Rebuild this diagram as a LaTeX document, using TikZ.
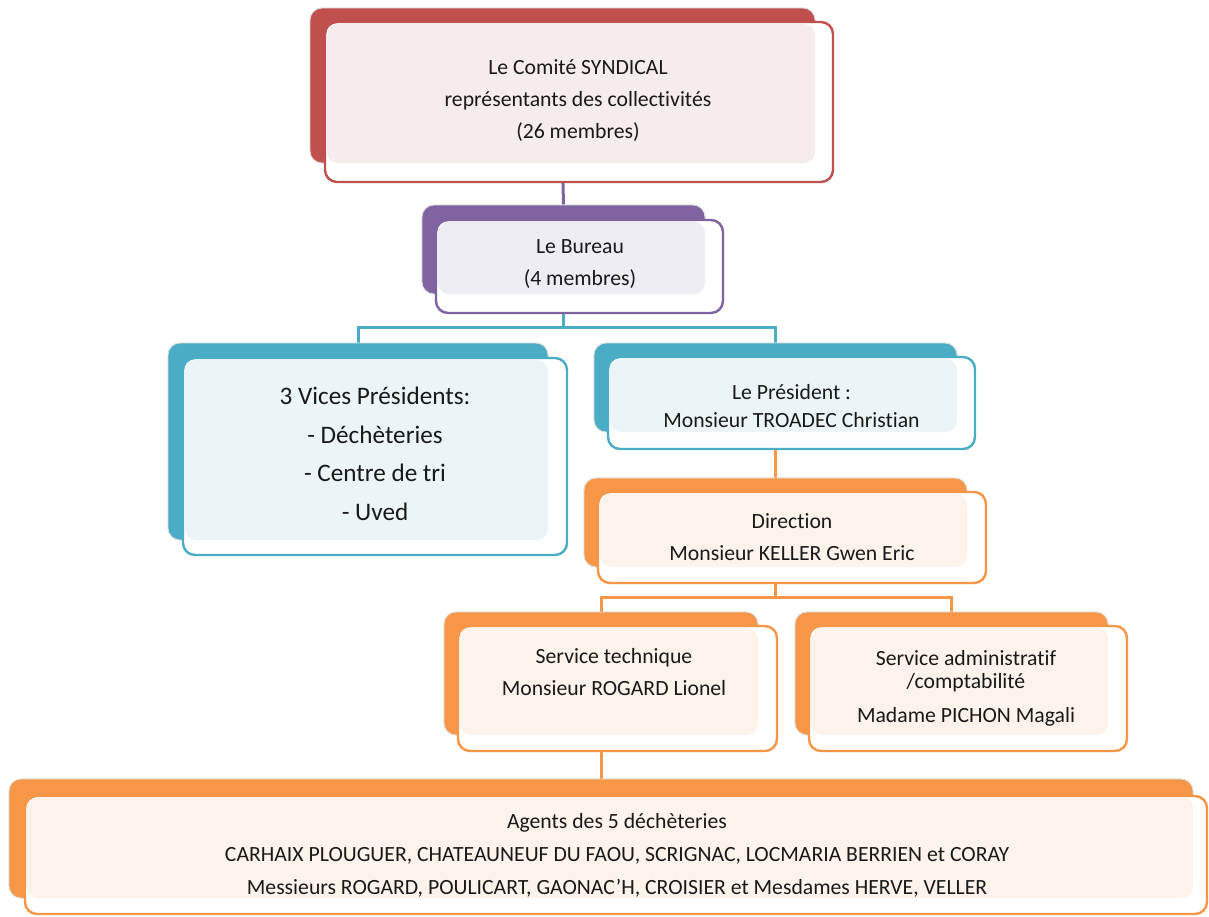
\documentclass[tikz,border=0pt]{standalone}
\usepackage{fontspec}
\setmainfont{Carlito}[Ligatures=NoCommon]
\usetikzlibrary{calc}
\definecolor{cred}{HTML}{C0504D}
\definecolor{tred}{HTML}{F7ECEC}
\definecolor{cpur}{HTML}{8064A2}
\definecolor{tpur}{HTML}{EFEDF4}
\definecolor{cteal}{HTML}{4BACC6}
\definecolor{tteal}{HTML}{EBF5F8}
\definecolor{cora}{HTML}{F79646}
\definecolor{tora}{HTML}{FDF3EB}
\tikzset{
  backbox/.style={rectangle, rounded corners=12pt, draw=black!12, line width=0.8pt, fill=#1, inner sep=0pt},
  frontbox/.style={rectangle, rounded corners=12pt, draw=#1, line width=2.4pt, fill=white, inner sep=0pt},
  tintfill/.style={fill=#1, rounded corners=11pt},
  conn/.style={line width=3pt, draw=#1},
  txt/.style={align=center, font=\fontsize{21.7}{32}\selectfont, text=black!90, inner sep=0pt},
}
\begin{document}
\begin{tikzpicture}[x=1pt,y=-1pt]
\useasboundingbox (0,0) rectangle (1209,916);
\fill[white] (0,0) rectangle (1209,916);
% back boxes (named) used by connectors
\node[backbox=cred, minimum width=505, minimum height=155] (comB) at (562.5,85.5) {};
\node[backbox=cpur, minimum width=283, minimum height=89] (burB) at (563.5,249.5) {};
\node[backbox=cteal, minimum width=380, minimum height=197] (vpB) at (358,441.5) {};
\node[backbox=cteal, minimum width=363, minimum height=89] (preB) at (775.5,387.5) {};
\node[backbox=cora, minimum width=383, minimum height=89] (dirB) at (775.5,522.5) {};
\node[backbox=cora, minimum width=314, minimum height=123] (tecB) at (601,673.5) {};
\node[backbox=cora, minimum width=313, minimum height=123] (admB) at (951.5,673.5) {};
\node[backbox=cora, minimum width=1184, minimum height=119] (ageB) at (601,838.5) {};
% connectors
\draw[conn=cpur] (comB.south) -- (burB.north);
\coordinate (j1) at ($(burB.south)+(0,33)$);
\draw[conn=cteal] (burB.south) -- (j1) -| (vpB.north);
\draw[conn=cteal] (j1) -| (preB.north);
\draw[conn=cora] (preB.south) -- (dirB.north);
\coordinate (j2) at ($(dirB.south)+(0,30)$);
\draw[conn=cora] (dirB.south) -- (j2) -| (tecB.north);
\draw[conn=cora] (j2) -| (admB.north);
\draw[conn=cora] (tecB.south) -- (ageB.north);
% redraw back boxes over connectors
\node[backbox=cred, minimum width=505, minimum height=155] at (comB) {};
\node[backbox=cpur, minimum width=283, minimum height=89] at (burB) {};
\node[backbox=cteal, minimum width=380, minimum height=197] at (vpB) {};
\node[backbox=cteal, minimum width=363, minimum height=89] at (preB) {};
\node[backbox=cora, minimum width=383, minimum height=89] at (dirB) {};
\node[backbox=cora, minimum width=314, minimum height=123] at (tecB) {};
\node[backbox=cora, minimum width=313, minimum height=123] at (admB) {};
\node[backbox=cora, minimum width=1184, minimum height=119] at (ageB) {};
% front boxes
\node[frontbox=cred, minimum width=508, minimum height=160] (comF) at (579,102) {};
\node[frontbox=cpur, minimum width=287, minimum height=93] (burF) at (579.5,266.5) {};
\node[frontbox=cteal, minimum width=384, minimum height=197] (vpF) at (375,456.5) {};
\node[frontbox=cteal, minimum width=367, minimum height=92] (preF) at (791.5,403) {};
\node[frontbox=cora, minimum width=388, minimum height=91] (dirF) at (792,537.5) {};
\node[frontbox=cora, minimum width=319, minimum height=125] (tecF) at (617.5,688.5) {};
\node[frontbox=cora, minimum width=318, minimum height=125] (admF) at (968,688.5) {};
\node[frontbox=cora, minimum width=1182, minimum height=118] (ageF) at (616,855) {};
% tints
\fill[tintfill=tred] (327,24) rectangle (815,163);
\fill[tintfill=tpur] (438,222) rectangle (705,294);
\fill[tintfill=tteal] (185,360) rectangle (548,540);
\fill[tintfill=tteal] (610,359) rectangle (957,432);
\fill[tintfill=tora] (600,494) rectangle (967,567);
\fill[tintfill=tora] (460,628) rectangle (758,735);
\fill[tintfill=tora] (811,628) rectangle (1108,735);
\fill[tintfill=tora] (27,797) rectangle (1193,898);
% texts
\node[txt] (comT) at (578,101) {Le Comité SYNDICAL\\représentants des collectivités\\(26 membres)};
\node[txt] (burT) at (580,264) {Le Bureau\\(4 membres)};
\node[txt, font=\fontsize{25.2}{38.5}\selectfont] (vpT) at (375,454) {3 Vices Présidents:\\- Déchèteries\\- Centre de tri\\- Uved};
\node[txt, font=\fontsize{21.7}{28}\selectfont] (preT) at (791.5,406) {Le Président :\\Monsieur TROADEC Christian};
\node[txt] (dirT) at (792,537) {Direction\\Monsieur KELLER Gwen Eric};
\node[txt] (tecT) at (614,672) {Service technique\\Monsieur ROGARD Lionel};
\node[txt, font=\fontsize{21.7}{23}\selectfont] (admT) at (966,688.5) {Service administratif\\/comptabilité\\[11pt]Madame PICHON Magali};
\node[txt, font=\fontsize{21.7}{33}\selectfont] (ageT) at (617,855) {Agents des 5 déchèteries\\CARHAIX PLOUGUER, CHATEAUNEUF DU FAOU, SCRIGNAC, LOCMARIA BERRIEN et CORAY\\Messieurs ROGARD, POULICART, GAONAC’H, CROISIER et Mesdames HERVE, VELLER};
\end{tikzpicture}
\end{document}
